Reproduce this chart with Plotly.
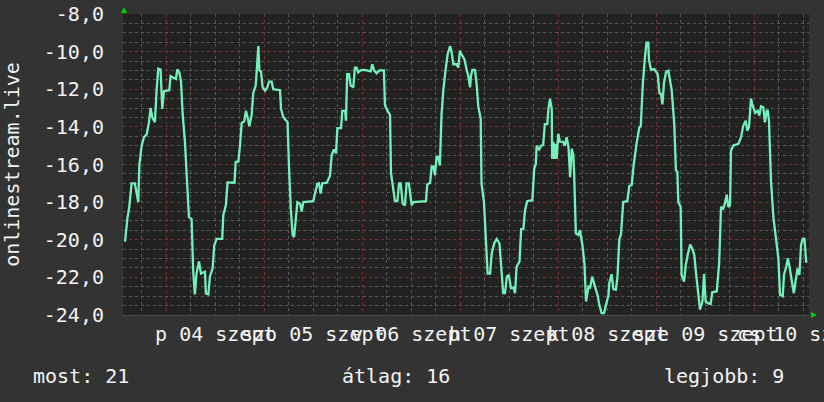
import pandas as pd
import plotly.graph_objects as go

# ---- data (hours relative to 2020-09-04 00:00, temperature) ----
base_time = "2020-09-04 00:00"
hours = [
    -10.1, -9.9, -9.55, -9.06, -8.5, -7.7, -7.27, -6.86, -6.6, -6.04, -5.47, -4.8, -4.24, -3.84,
    -3.43, -2.78, -2.37, -1.96, -1.4, -0.98, -0.57, 0.73, 1.06, 2.37, 2.7, 3.18, 3.6, 4.0, 4.57,
    4.98, 5.55, 6.2, 6.6, 7.0, 7.4, 8.0, 8.5, 9.47, 9.7, 10.3, 10.7, 11.35, 11.75, 12.33, 13.7,
    13.96, 14.6, 15.0,
    16.7, 17.0, 17.65, 18.05, 18.46, 19.1, 19.5, 19.93, 20.34, 20.9, 21.3, 21.9, 22.3, 22.55,
    22.8, 23.2, 23.6, 24.2, 24.75, 25.15, 25.8, 26.2, 27.85, 28.1, 28.7, 29.25, 29.7, 30.05,
    30.5, 30.95, 31.3, 31.7, 32.1, 32.75, 33.15, 33.57, 36.0, 36.4, 37.0, 37.4, 37.8, 38.2, 39.3,
    40.1, 40.5, 41.07, 41.56, 41.9, 42.8, 43.1, 43.8, 44.0, 44.3, 44.75, 45.15, 45.8, 46.2, 46.6,
    47.0, 47.6, 48.25, 49.1, 50.05, 50.45, 50.9, 51.5, 52.2, 53.3, 53.55, 54.2, 54.8, 55.03,
    55.6, 56.0, 56.6, 57.0, 57.4, 57.9, 58.45, 58.85, 59.4, 59.8, 60.1, 60.5, 63.6, 63.9, 64.6,
    65.0, 65.4,
    65.8, 66.2, 66.6, 67.0, 67.4, 67.85, 68.4, 68.9, 69.5, 69.9, 70.3, 71.1, 71.5, 71.9, 72.3,
    73.0, 73.6, 73.97, 74.4, 74.6, 74.95, 75.6, 76.0, 76.4, 77.0, 77.2, 77.8, 78.3, 78.7, 79.3,
    79.7, 80.3, 80.9, 81.6, 82.1, 82.5, 82.95, 83.4, 83.9, 84.4, 85.0, 85.4, 85.8, 86.5, 86.9,
    87.45, 87.85, 88.4, 89.65, 90.1, 90.5, 90.7, 91.3, 91.8, 92.3,
    92.7, 93.3, 93.6, 93.97, 94.4, 94.5, 94.8, 95.0, 95.4, 95.6, 96.0, 96.4, 97.2, 97.6, 98.05,
    98.5, 98.9, 99.3, 99.7, 99.9, 100.3, 100.9, 101.3, 101.9, 102.4, 102.8, 103.4, 103.8, 104.3,
    104.99, 105.6, 106.05, 106.6, 107.2, 107.7, 108.3, 108.5, 109.05, 109.5, 110.1, 110.5,
    110.95, 111.35, 111.9, 112.9, 113.4, 113.97, 114.5, 115.2, 115.85, 116.2, 116.7, 117.2,
    117.6, 118.05,
    118.2, 118.7, 119.5, 120.35, 120.75, 121.16, 121.5, 121.9, 122.4, 122.95, 123.36, 123.77,
    124.4, 124.8, 125.16, 125.4, 125.97, 126.2, 126.8, 127.2, 127.7, 128.3, 128.8, 129.3, 129.7,
    130.3, 130.7, 131.3, 131.7, 132.1, 132.6, 133.3, 133.7, 134.8,
    135.4, 135.86, 136.4, 136.8, 137.25, 137.65, 138.06, 138.3, 138.9, 140.1, 140.76, 141.3,
    141.9, 142.3, 142.7, 143.2, 143.5, 144.2, 144.8, 145.25, 145.65, 146.2, 146.6, 147.04,
    147.3, 147.6, 148.1, 148.7, 149.25, 149.9, 150.3, 150.96, 151.3, 151.8, 152.2, 152.6, 153.2,
    153.7, 154.1, 154.6, 155.05, 155.45, 155.86, 156.3, 156.7, 157.0,
]
temps = [
    -20.1, -19.6, -18.9, -18.25, -17.0, -17.0, -17.5, -18.0, -16.05, -15.0, -14.55, -14.4, -13.75,
    -13.0, -13.5, -13.75, -12.05, -10.9, -10.95, -13.05, -12.1, -12.05, -11.3, -11.45, -10.95,
    -11.1, -11.55, -13.3, -14.8, -16.65, -18.8, -18.9, -21.7, -22.9, -21.8, -21.15, -21.8, -21.7,
    -22.85, -22.9, -21.95, -21.5, -20.3, -19.95, -19.95, -18.7, -18.15, -16.95,
    -16.97, -15.87, -15.84, -15.0, -13.8, -13.7, -13.15, -13.5, -13.97, -13.37, -12.2, -11.8,
    -10.67, -9.7, -11.0, -11.07, -11.9, -12.08, -11.9, -11.6, -11.6, -12.0, -12.05, -13.05, -13.5,
    -13.67, -13.75, -16.1, -18.4, -19.75, -19.85, -18.95, -18.0, -18.08, -18.5, -18.0, -17.95,
    -17.55, -17.02, -17.0, -17.55, -17.0, -16.97,
    -16.6, -15.5, -15.2, -15.4, -14.07, -14.07, -13.15, -13.15, -13.67, -11.2, -11.2, -11.8,
    -11.9, -10.85, -10.85, -11.1, -11.0, -10.97, -11.0, -11.05, -10.67, -11.0, -11.15, -11.0,
    -11.0, -12.85, -13.15, -13.37, -16.45, -17.46, -17.95, -17.95, -17.0, -17.0, -18.08, -18.17,
    -17.0, -17.0, -17.55, -18.17, -18.0, -17.95, -17.07, -16.97, -16.1, -16.1,
    -16.58, -15.6, -15.6, -16.05, -13.4, -12.03, -10.97, -10.14, -9.7, -10.05, -10.67, -10.67,
    -10.85, -9.96, -10.14, -10.4, -11.0, -11.3, -11.9, -11.3, -10.97, -10.97, -11.73, -12.9,
    -13.58, -17.02, -18.0, -19.9, -21.8, -21.8, -20.72, -20.2, -19.96, -20.2, -21.43, -22.84,
    -22.84, -21.96, -21.87, -22.57, -22.54, -22.84, -21.43, -21.16, -19.44, -19.44, -18.43,
    -17.95, -17.9, -16.23, -15.96, -15.0, -15.2, -15.0, -14.96,
    -13.85, -13.85, -13.0, -12.52, -13.05, -15.7, -14.8, -15.7, -14.9, -15.7, -14.37, -14.78,
    -14.8, -15.0, -14.55, -15.08, -16.67, -15.17, -15.52, -16.58, -19.66, -19.75, -19.49, -20.28,
    -21.25, -23.28, -22.49, -22.54, -21.96, -22.49, -22.93, -23.46, -23.9, -23.9, -23.46, -22.93,
    -22.3, -21.83, -22.62, -22.66, -21.96, -19.96, -19.72, -17.99, -17.95, -17.14, -17.1, -15.96,
    -14.85, -14.02, -13.97, -11.73, -10.37, -9.52, -9.52,
    -10.4, -10.97, -10.93, -11.2, -12.2, -12.26, -12.8, -11.64, -11.08, -11.02, -11.46, -12.03,
    -13.85, -16.3, -16.4, -18.0, -18.25, -21.87, -22.22, -21.38, -20.8, -20.25, -20.46, -20.8,
    -21.7, -22.84, -23.72, -23.28, -21.83, -23.28, -23.37, -23.42, -22.79, -22.75,
    -21.25, -18.25, -18.34, -18.08, -17.6, -18.25, -18.17, -15.26, -14.99, -14.9, -14.55, -13.94,
    -13.67, -14.2, -14.02, -12.49, -12.79, -13.26, -13.14, -13.4, -12.91, -12.96, -13.76, -13.14,
    -13.14, -13.67, -16.93, -18.84, -19.84, -20.99, -22.93, -23.0, -21.83, -21.48, -20.99, -21.38,
    -22.22, -22.84, -22.22, -21.52, -21.87, -20.28, -19.96, -19.96, -21.16, -21.16,
]

x_range = ["2020-09-03 13:24", "2020-09-10 13:24"]
label_days = ["2020-09-04 12:00", "2020-09-05 12:00", "2020-09-06 12:00", "2020-09-07 12:00",
              "2020-09-08 12:00", "2020-09-09 12:00", "2020-09-10 12:00"]
label_texts = ["p 04 szept", "szo 05 szept", "v 06 szept", "h 07 szept",
               "k 08 szept", "sze 09 szept", "cs 10 szept"]
y_ticks = [-24, -22, -20, -18, -16, -14, -12, -10, -8]
y_labels = [f"{v:.1f}".replace(".", ",") for v in y_ticks]
y_title = "onlinestream.live"
legend_items = ["most: 21", "átlag: 16", "legjobb: 9"]

times = pd.Timestamp(base_time) + pd.to_timedelta(hours, unit="h")

FONT = "DejaVu Sans Mono"
TXT = "#f2f2f2"
MAJOR = "rgba(118,48,48,1)"
MINOR = "rgba(88,88,88,1)"

fig = go.Figure()
# the visible line lives on the grid axis (x2); a transparent copy anchors the label axis (x)
fig.add_trace(go.Scatter(
    x=times, y=temps, mode="lines", xaxis="x",
    line=dict(color="rgba(0,0,0,0)", width=0),
    hoverinfo="skip", showlegend=False,
))
fig.add_trace(go.Scatter(
    x=times, y=temps, mode="lines", xaxis="x2",
    line=dict(color="#74F0BC", width=2.3),
    hoverinfo="skip", showlegend=False,
))

fig.update_layout(
    width=824, height=402,
    margin=dict(l=123, r=15, t=14, b=87),
    paper_bgcolor="#333333",
    plot_bgcolor="#222222",
    font=dict(family=FONT, size=20, color=TXT),
    showlegend=False,
    xaxis=dict(
        type="date", range=x_range, automargin=False,
        tickmode="array", tickvals=label_days, ticktext=label_texts,
        tickangle=0, ticklabeloverflow="allow",
        showgrid=False, zeroline=False, ticks="",
        showline=True, linecolor="#4a4a4a", linewidth=1,
        tickfont=dict(family=FONT, size=20, color=TXT),
        ticklabelstandoff=1,
    ),
    xaxis2=dict(
        type="date", range=x_range, overlaying="x", anchor="y", side="bottom",
        automargin=False,
        tick0="2020-09-04 00:00", dtick=86400000,
        showgrid=True, gridcolor=MAJOR, griddash="dot", gridwidth=1,
        minor=dict(tick0="2020-09-04 00:00", dtick=21600000, showgrid=True,
                   gridcolor=MINOR, griddash="dot", gridwidth=1),
        showticklabels=False, ticks="", zeroline=False, showline=False,
    ),
    yaxis=dict(
        range=[-24, -8], tickmode="array", tickvals=y_ticks, ticktext=y_labels,
        automargin=False,
        showgrid=True, gridcolor=MAJOR, griddash="dot", gridwidth=1,
        minor=dict(dtick=0.5, showgrid=True, gridcolor=MINOR, griddash="dot", gridwidth=1),
        zeroline=False, ticks="", showline=True, linecolor="#3a3a3a",
        tickfont=dict(family=FONT, size=20, color=TXT),
        ticklabelstandoff=14,
        title=dict(text=y_title, font=dict(family=FONT, size=20, color=TXT), standoff=18),
    ),
)

# legend line at the bottom
leg_x = [-0.134, 0.316, 0.786]
for txt, xp in zip(legend_items, leg_x):
    fig.add_annotation(text=txt, xref="paper", yref="paper", x=xp, y=-0.203,
                       xanchor="left", yanchor="middle", showarrow=False,
                       font=dict(family=FONT, size=20, color=TXT))

# small green axis arrows (rrdtool style)
fig.add_shape(type="path", xref="paper", yref="paper", xsizemode="pixel", ysizemode="pixel",
              xanchor=0, yanchor=1, path="M -2,1 L 4,1 L 1,7 Z",
              fillcolor="#00D000", line=dict(width=0))
fig.add_shape(type="path", xref="paper", yref="paper", xsizemode="pixel", ysizemode="pixel",
              xanchor=1, yanchor=0, path="M 2,3 L 2,-3 L 8,0 Z",
              fillcolor="#00D000", line=dict(width=0))

fig.write_html("out.html", config={"displayModeBar": False},
               post_script="document.body.style.margin='0';")
